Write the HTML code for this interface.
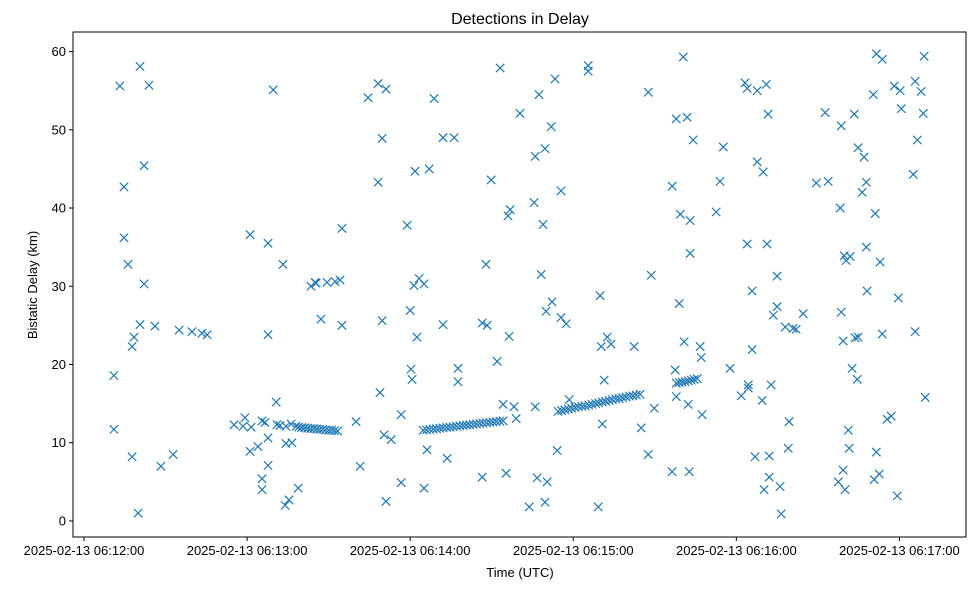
<!DOCTYPE html>
<html><head><meta charset="utf-8"><style>
body{margin:0;background:#fff;}
svg{display:block;font-family:"Liberation Sans","DejaVu Sans",sans-serif;}
</style></head><body>
<svg id="chart" width="979" height="590">
<rect width="979" height="590" fill="#fff"/>
<text x="520" y="24" text-anchor="middle" font-size="16">Detections in Delay</text>
<g id="marks"></g>
<rect x="73" y="32" width="893" height="505" fill="none" stroke="#000" stroke-width="1"/>
<g id="xticks"></g><g id="yticks"></g>
<text x="520" y="577" text-anchor="middle" font-size="13">Time (UTC)</text>
<text transform="translate(37,285) rotate(-90)" text-anchor="middle" font-size="13">Bistatic Delay (km)</text>
</svg>
<script>
// seconds after 2025-02-13 06:12:00 UTC
const times = [
11.0,11.0,13.2,14.7,14.7,16.2,17.7,17.7,18.4,19.9,20.6,20.6,22.1,22.1,23.9,26.1,28.3,32.8,35.0,39.7,43.4,45.3,
55.2,58.5,59.2,61.1,61.1,61.5,64.0,65.5,65.5,65.5,66.6,67.7,67.7,67.7,67.7,69.6,70.7,71.0,72.1,73.2,74.0,74.3,74.3,75.4,76.2,76.5,78.0,78.8,83.5,85.0,85.4,87.2,89.4,92.4,94.2,94.9,94.9,
79.0,80.1,81.2,82.3,83.4,84.5,85.6,86.7,87.8,88.9,90.0,91.1,92.2,93.3,
100.1,101.6,104.5,108.2,108.2,108.9,109.7,109.7,110.4,111.1,111.1,113.0,116.7,116.7,118.9,120.0,120.3,120.7,121.4,121.8,122.5,123.3,125.1,125.1,126.2,127.0,128.8,132.1,132.1,133.6,136.2,137.6,137.6,
146.5,146.5,148.3,149.8,147.9,152.0,153.1,154.2,155.3,156.4,156.8,156.0,158.2,159.0,160.4,163.8,165.6,166.0,166.0,166.7,167.4,168.2,168.9,169.6,169.6,170.0,170.4,171.9,172.2,173.3,174.1,175.5,175.5,177.4,178.5,
124.8,126.0,127.2,128.5,129.7,130.9,132.1,133.4,134.6,135.8,137.0,138.3,139.5,140.7,141.9,143.2,144.4,145.6,146.8,148.1,149.3,150.5,151.7,153.0,154.2,
174.4,175.7,176.9,178.2,179.4,180.7,181.9,183.2,184.4,185.7,186.9,188.2,189.4,190.7,191.9,193.2,194.4,195.7,196.9,198.2,199.4,200.7,201.9,203.2,204.6,
185.5,185.5,189.2,189.9,190.3,190.7,191.4,192.5,193.9,202.4,205.0,207.6,207.6,208.7,209.8,216.4,216.4,217.9,217.5,217.9,219.0,219.4,220.5,220.8,221.9,222.3,222.7,223.0,223.0,224.1,226.7,227.1,227.4,
217.9,219.0,220.1,221.2,222.3,223.4,224.5,225.6,
232.6,234.0,235.2,237.7,241.8,243.2,244.0,244.0,244.4,244.4,245.8,245.8,246.9,247.7,247.7,249.5,249.9,250.2,251.0,251.3,251.7,252.1,252.1,252.8,253.6,255.0,255.0,256.1,256.5,258.0,259.1,259.4,260.9,262.0,264.6,269.4,272.7,273.8,
277.5,278.2,278.6,278.6,279.3,279.3,279.7,280.0,280.4,281.2,281.5,281.9,282.6,283.4,283.7,284.5,284.8,284.8,286.3,287.0,287.8,287.8,288.1,290.4,290.7,291.1,291.5,291.5,292.6,292.9,293.7,293.7,295.5,297.0,298.1,299.2,299.6,300.3,300.7,305.1,305.8,305.8,306.6,308.0,308.8,309.1,309.5
];
const delays = [
18.6,11.7,55.6,42.7,36.2,32.8,8.2,22.3,23.5,1.0,25.1,58.1,45.4,30.3,55.7,24.9,7.0,8.5,24.4,24.2,24.0,23.8,
12.3,12.1,13.2,36.6,8.9,12.0,9.5,5.4,4.0,12.8,12.6,35.5,23.8,7.1,10.6,55.1,15.2,12.3,12.2,32.8,2.0,12.1,9.9,2.7,12.4,10.0,12.1,4.2,30.0,30.5,30.4,25.8,30.5,30.6,30.8,37.4,25.0,
12.0,11.95,11.9,11.85,11.8,11.8,11.75,11.7,11.7,11.65,11.6,11.6,11.55,11.5,
12.7,7.0,54.1,55.9,43.3,16.4,48.9,25.6,11.0,55.2,2.5,10.4,13.6,4.9,37.8,26.9,19.4,18.1,30.1,44.7,23.5,31.0,30.3,4.2,9.1,45.0,54.0,49.0,25.1,8.0,49.0,19.5,17.8,
25.3,5.6,25.0,43.6,32.8,20.4,57.9,14.9,6.1,23.6,39.8,39.0,14.6,13.1,52.1,1.8,40.7,46.6,14.6,5.5,54.5,31.5,37.9,47.6,2.4,26.8,5.0,50.4,28.0,56.5,9.0,42.2,26.0,25.2,15.5,
11.6,11.65,11.7,11.75,11.8,11.85,11.9,11.95,12.0,12.05,12.1,12.15,12.2,12.25,12.3,12.35,12.4,12.45,12.5,12.55,12.6,12.65,12.7,12.75,12.8,
14.0,14.1,14.2,14.3,14.4,14.5,14.6,14.65,14.7,14.8,14.9,15.0,15.1,15.2,15.3,15.4,15.5,15.6,15.65,15.75,15.85,15.95,16.0,16.1,16.2,
58.2,57.5,1.8,28.8,22.3,12.4,18.0,23.5,22.6,22.3,11.9,54.8,8.5,31.4,14.4,42.8,6.3,51.4,19.3,15.9,27.8,39.2,59.3,22.9,51.6,14.9,6.3,38.4,34.2,48.7,22.3,20.9,13.6,
17.6,17.7,17.75,17.8,17.9,18.0,18.1,18.2,
39.5,43.4,47.8,19.5,16.0,56.0,55.3,35.4,17.4,17.0,29.4,21.9,8.2,55.0,45.9,15.4,44.6,4.0,55.8,35.4,52.0,8.3,5.6,17.4,26.3,31.3,27.4,4.4,0.9,24.8,9.3,12.7,24.6,24.5,26.5,43.2,52.2,43.4,
5.0,40.0,26.7,50.5,23.0,6.5,33.9,4.0,33.3,11.6,9.3,33.8,19.5,52.0,23.4,18.1,23.5,47.7,42.0,46.5,35.0,43.3,29.4,54.5,5.3,39.3,8.8,59.7,6.0,33.1,23.9,59.0,13.0,13.4,55.6,3.2,28.5,55.0,52.7,44.3,56.2,24.2,48.7,54.9,52.1,59.4,15.8
];
const xTickSeconds = [0,60,120,180,240,300];
const xTickLabels = ["2025-02-13 06:12:00","2025-02-13 06:13:00","2025-02-13 06:14:00","2025-02-13 06:15:00","2025-02-13 06:16:00","2025-02-13 06:17:00"];
const yTickValues = [0,10,20,30,40,50,60];

const NS="http://www.w3.org/2000/svg";
const L=73,R=966,T=32,B=537;
const xMin=-4.05,xMax=324.5,yMin=-2.05,yMax=62.5;
const sx=v=>L+(v-xMin)/(xMax-xMin)*(R-L);
const sy=v=>B-(v-yMin)/(yMax-yMin)*(B-T);
function mk(tag,attrs){const e=document.createElementNS(NS,tag);for(const k in attrs)e.setAttribute(k,attrs[k]);return e;}
const marks=document.getElementById('marks');
const n=Math.min(times.length,delays.length);
for(let i=0;i<n;i++){
  const x=sx(times[i]),y=sy(delays[i]),s=4.2;
  const p=mk('path',{d:`M${x-s},${y-s}L${x+s},${y+s}M${x-s},${y+s}L${x+s},${y-s}`,stroke:'#1f77b4','stroke-width':1.2,fill:'none'});
  
  
  marks.appendChild(p);
}
const xt=document.getElementById('xticks');
xTickSeconds.forEach((v,i)=>{
  const x=sx(v);
  const g=mk('g',{});
  
  
  g.appendChild(mk('line',{x1:x,x2:x,y1:B,y2:B+4,stroke:'#000'}));
  const t=mk('text',{x:x,y:B+18,'text-anchor':'middle','font-size':13});
  t.textContent=xTickLabels[i];g.appendChild(t);xt.appendChild(g);
});
const yt=document.getElementById('yticks');
yTickValues.forEach(v=>{
  const y=sy(v);
  const g=mk('g',{});
  
  
  g.appendChild(mk('line',{x1:L-4,x2:L,y1:y,y2:y,stroke:'#000'}));
  const t=mk('text',{x:L-7,y:y+4.5,'text-anchor':'end','font-size':13});
  t.textContent=v;g.appendChild(t);yt.appendChild(g);
});
</script>
</body></html>
